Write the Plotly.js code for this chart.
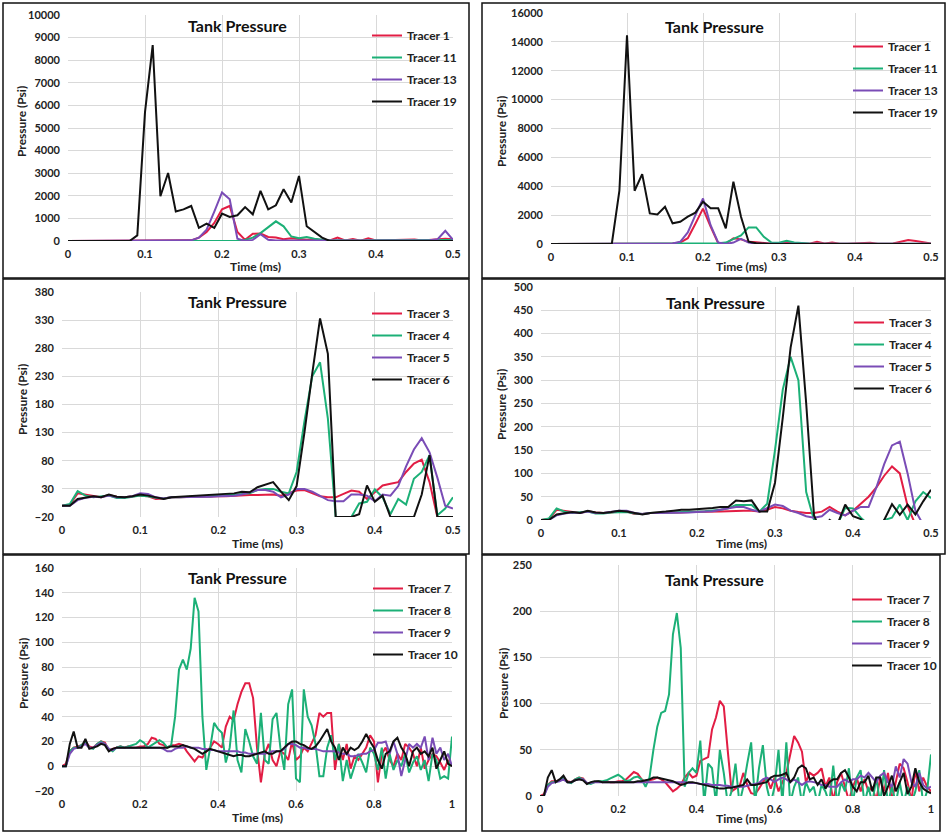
<!DOCTYPE html>
<html><head><meta charset="utf-8">
<script src="https://cdn.plot.ly/plotly-3.0.1.min.js"></script>
<style>html,body{margin:0;padding:0;background:#fff}</style>
</head><body><div id="chart" style="width:948px;height:835px"></div>
<script>
// ---------- time axes (ms) ----------
const TIME_HALF = [0,0.01,0.02,0.03,0.04,0.05,0.06,0.07,0.08,0.09,
 0.10,0.11,0.12,0.13,0.14,0.15,0.16,0.17,0.18,0.19,
 0.20,0.21,0.22,0.23,0.24,0.25,0.26,0.27,0.28,0.29,
 0.30,0.31,0.32,0.33,0.34,0.35,0.36,0.37,0.38,0.39,
 0.40,0.41,0.42,0.43,0.44,0.45,0.46,0.47,0.48,0.49,0.50];
const TIME_FULL = [0,0.01,0.02,0.03,0.04,0.05,0.06,0.07,0.08,0.09,
 0.10,0.11,0.12,0.13,0.14,0.15,0.16,0.17,0.18,0.19,
 0.20,0.21,0.22,0.23,0.24,0.25,0.26,0.27,0.28,0.29,
 0.30,0.31,0.32,0.33,0.34,0.35,0.36,0.37,0.38,0.39,
 0.40,0.41,0.42,0.43,0.44,0.45,0.46,0.47,0.48,0.49,
 0.50,0.51,0.52,0.53,0.54,0.55,0.56,0.57,0.58,0.59,
 0.60,0.61,0.62,0.63,0.64,0.65,0.66,0.67,0.68,0.69,
 0.70,0.71,0.72,0.73,0.74,0.75,0.76,0.77,0.78,0.79,
 0.80,0.81,0.82,0.83,0.84,0.85,0.86,0.87,0.88,0.89,
 0.90,0.91,0.92,0.93,0.94,0.95,0.96,0.97,0.98,0.99,1.00];

// ---------- Panel 1 (top-left) ----------
const P1_NAMES = ["Tracer 1","Tracer 11","Tracer 13","Tracer 19"];
const P1_T1 = [0,0,0,0,0,0,0,0,0,0, 0,0,10,20,20,20,30,150,400,800,
 1400,1550,400,50,320,330,180,150,80,120, 100,60,80,30,20,150,20,90,10,120,
 20,30,50,60,60,70,20,40,60,100, 80];
const P1_T11 = [0,0,0,0,0,0,0,0,0,0, 0,0,0,0,0,0,0,0,0,0,
 0,0,0,50,150,350,600,870,650,200, 120,180,100,50,20,30,20,30,20,30,
 30,40,40,50,40,40,30,30,40,50, 40];
const P1_T13 = [0,0,0,0,0,0,0,0,0,0, 0,10,20,30,20,10,30,150,500,1300,
 2150,1850,100,0,50,300,50,20,20,20, 20,20,20,20,20,20,20,20,20,20,
 20,20,20,20,20,20,20,30,80,450, 50];
const P1_T19 = [0,0,0,0,0,0,0,0,0,250, 5700,8670,1980,3010,1310,1400,1550,580,770,580,
 1210,1060,1140,1500,1180,2220,1400,1580,2290,1700, 2880,650,400,150,0,0,0,0,0,0,
 0,0,0,0,0,0,0,0,0,0, 0];

// ---------- Panel 2 (top-right) ----------
const P2_NAMES = ["Tracer 1","Tracer 11","Tracer 13","Tracer 19"];
const P2_T1 = [0,0,0,0,0,0,0,0,0,0, 0,0,10,10,20,20,30,100,400,1400,
 2450,1200,50,20,400,320,150,120,50,20, 50,100,50,30,20,150,30,100,20,20,
 30,30,80,20,20,30,150,280,200,100, 40];
const P2_T11 = [0,0,0,0,0,0,0,0,0,0, 0,0,0,0,0,0,0,0,0,0,
 0,0,50,100,350,600,1150,1150,500,100, 80,220,100,50,30,20,20,30,20,20,
 20,30,40,20,20,20,30,40,30,30, 20];
const P2_T13 = [0,0,0,0,0,0,0,0,0,0, 0,10,20,30,20,20,30,150,800,2000,
 3150,1300,100,0,100,350,100,20,20,20, 20,20,20,20,20,20,20,20,20,20,
 20,20,20,20,20,20,20,20,20,20, 20];
const P2_T19 = [0,0,0,0,0,0,0,0,0,3690, 14450,3690,4840,2120,2050,2580,1430,1540,1890,2170,
 2930,2470,2470,1080,4310,1890,160,50,0,0, 0,0,0,0,0,0,0,0,0,0,
 0,0,0,0,0,0,0,0,0,0, 0];

// ---------- Panel 3 (middle-left) ----------
const P3_NAMES = ["Tracer 3","Tracer 4","Tracer 5","Tracer 6"];
const P3_T3 = [0,2,22,20,17,15,19,16,15,16, 18,17,12,13,15,15,16,16,16,17,
 17,17,18,18,19,19,20,20,18,22, 27,28,23,17,15,15,21,27,25,12,
 24,36,39,42,60,75,82,42,-20,-20, -20];
const P3_T4 = [0,3,26,18,15,16,18,14,14,16, 18,17,14,13,15,15,16,16,17,17,
 18,18,19,20,22,28,30,30,25,22, 60,150,230,255,155,-20,-20,-20,4,7,
 29,15,-15,12,2,48,60,90,-17,-5, 15];
const P3_T5 = [0,0,10,14,16,15,18,15,15,17, 22,21,15,13,15,15,15,15,15,16,
 17,17,18,20,24,28,28,25,15,20, 30,30,25,18,10,8,8,20,20,18,
 8,20,18,35,70,100,120,95,50,0, -5];
const P3_T6 = [0,0,12,15,17,15,20,16,15,17, 20,18,15,12,15,16,17,18,19,20,
 21,21,22,25,24,33,38,42,25,10, 35,130,235,333,270,-20,-20,-20,-15,36,
 7,18,-20,-20,-20,-20,20,90,-20,-20, -20];

// ---------- Panel 4 (middle-right) ----------
const P4_NAMES = ["Tracer 3","Tracer 4","Tracer 5","Tracer 6"];
const P4_T3 = [0,2,22,20,17,15,19,16,15,16, 19,18,13,13,15,15,16,16,16,17,
 17,17,18,18,19,20,20,20,18,22, 28,25,20,17,15,15,18,28,18,10,
 20,35,50,70,95,115,100,30,-10,-20, -20];
const P4_T4 = [0,3,25,18,15,16,18,14,14,16, 17,17,14,13,15,15,16,16,17,17,
 18,19,20,22,25,32,32,32,18,35, 150,280,350,300,60,0,-20,-20,-10,26,
 25,5,-10,-20,0,5,33,0,40,60, 47];
const P4_T5 = [0,0,10,14,16,15,18,15,15,17, 20,20,15,13,15,15,15,15,15,16,
 17,18,19,22,25,28,28,22,18,25, 33,30,20,15,8,5,8,22,15,10,
 20,28,28,70,120,160,168,100,20,-10, -20];
const P4_T6 = [0,0,12,15,17,15,20,16,15,17, 20,18,15,12,15,16,18,20,22,22,
 23,24,26,28,28,42,40,42,18,18, 80,220,370,460,250,10,-30,0,-10,33,
 8,2,-20,-20,0,34,11,33,12,40, 65];

// ---------- Panel 5 (bottom-left) ----------
const P5_NAMES = ["Tracer 7","Tracer 8","Tracer 9","Tracer 10"];
const P5_T7 = [0,2,12,15,16,17,20,16,15,18, 20,19,13,14,15,16,15,16,15,15,
 16,16,18,23,22,18,17,15,17,17, 18,17,12,8,4,8,7,12,15,20,
 18,15,32,40,37,50,60,67,67,55, 15,-13,10,18,5,0,12,10,5,20,
 5,8,15,12,18,25,43,40,43,43, -3,18,5,18,-2,8,5,10,15,25,
 20,-13,10,15,5,0,10,5,18,15, 10,0,15,-2,5,10,8,3,-3,5, 0];
const P5_T8 = [0,0,12,15,15,17,20,15,14,18, 20,18,14,12,15,16,15,16,17,18,
 21,19,15,17,19,21,19,15,17,40, 78,86,78,95,136,125,40,-3,15,35,
 30,27,3,15,45,5,-5,30,20,8, 2,43,5,2,38,43,15,-3,50,62,
 -10,-13,62,40,33,18,-8,-8,15,25, 5,18,-12,5,-10,0,10,3,-5,15,
 10,-3,15,-10,10,-3,5,0,10,-5, 3,8,-3,5,-12,10,5,-10,-8,-10, 24];
const P5_T9 = [0,0,10,14,15,16,18,15,15,17, 19,18,14,13,15,15,15,15,15,15,
 15,15,15,15,15,15,14,12,12,14, 15,15,16,15,15,15,14,14,13,13,
 12,12,12,12,12,12,11,11,10,10, 10,10,10,11,12,12,12,14,18,18,
 17,15,15,14,14,14,13,12,12,12, 12,11,10,10,8,8,9,10,10,12,
 13,19,19,20,10,20,10,-8,5,18, 15,18,15,24,5,23,10,15,5,10, 0];
const P5_T10 = [0,0,18,28,15,15,22,14,15,16, 18,17,12,14,15,15,15,15,15,15,
 15,15,15,15,15,15,15,15,16,16, 16,17,16,15,14,12,10,12,14,13,
 12,11,10,9,8,9,9,8,8,9, 10,11,12,10,10,12,12,15,18,20,
 20,18,17,15,14,16,20,25,30,20, 15,5,15,10,15,13,15,20,26,20,
 15,5,-2,10,12,20,23,15,10,0, 12,15,10,12,8,15,-2,5,12,2, 0];

// ---------- Panel 6 (bottom-right) ----------
const P6_NAMES = ["Tracer 7","Tracer 8","Tracer 9","Tracer 10"];
const P6_T7 = [0,2,12,16,16,17,20,16,15,18, 20,19,14,14,15,16,15,16,15,15,
 16,16,18,22,26,24,18,15,17,18, 20,18,15,10,5,8,12,20,25,20,
 22,38,40,42,72,85,103,97,50,5, 8,10,25,12,3,2,8,15,20,8,
 20,5,15,25,45,65,58,48,15,25, 22,25,30,10,20,-5,15,25,10,-5,
 10,20,5,18,5,10,-5,20,5,25, -5,15,35,30,15,-5,28,5,20,10, 5];
const P6_T8 = [0,0,12,15,15,17,20,15,14,18, 20,18,14,13,15,16,16,17,19,21,
 23,20,16,17,20,21,18,10,20,50, 75,90,92,110,175,198,160,10,25,30,
 25,60,-8,35,30,-8,50,25,-8,5, 35,-8,10,35,58,-8,30,55,10,-8,
 10,50,-8,58,-8,10,20,-8,15,5, 10,-8,12,5,-8,33,-8,15,5,30,
 -8,20,28,-8,10,-8,20,-8,28,-8, 10,-8,15,-8,10,-8,5,28,-8,5, 45];
const P6_T9 = [0,0,10,14,15,16,18,15,15,17, 18,18,14,14,15,15,15,15,15,15,
 15,15,15,15,15,15,15,15,15,15, 15,15,15,15,15,15,15,15,14,14,
 14,13,13,13,12,12,12,11,11,10, 10,10,10,11,12,13,14,18,20,18,
 15,18,20,18,15,18,15,12,15,16, 15,14,12,12,10,10,10,15,18,15,
 18,18,22,20,25,20,15,22,25,15, 10,32,20,40,35,15,10,25,12,8, 10];
const P6_T10 = [0,0,20,28,15,18,22,15,15,17, 18,17,13,15,16,16,15,15,15,15,
 15,15,15,15,15,16,16,17,18,20, 20,19,18,17,16,14,12,13,15,15,
 14,13,12,11,10,9,8,8,9,9, 10,11,12,18,12,12,13,14,15,20,
 22,22,23,25,15,20,30,33,30,18, 20,12,18,8,15,18,18,25,28,20,
 10,5,15,15,22,5,20,20,0,10, 22,5,15,25,2,10,30,15,8,5, 3];

// ---------- styling & layout ----------
const COLORS = ["#E21D44","#1CB077","#7A4CB6","#111111"];
const FONT = 'Lato, "Open Sans", "DejaVu Sans", sans-serif';
const W = 948, H = 835;
const xd = (a,b) => [a/W, b/W];
const yd = (top,bottom) => [1-bottom/H, 1-top/H];

const panels = [
 {t:TIME_HALF, names:P1_NAMES, ys:[P1_T1,P1_T11,P1_T13,P1_T19], plot:[68,15,453,241], yr:[0,10000], y0:0, dy:1000, xr:[0,0.5], dx:0.1,
  leg:[367,21], title:[237,25], xt:[256,266], yt:[22,122], box:[3,3,469,278]},
 {t:TIME_HALF, names:P2_NAMES, ys:[P2_T1,P2_T11,P2_T13,P2_T19], plot:[551,13,931,244], yr:[0,16000], y0:0, dy:2000, xr:[0,0.5], dx:0.1,
  leg:[848,32], title:[714,27], xt:[741,266], yt:[502,132], box:[482,3,945,278]},
 {t:TIME_HALF, names:P3_NAMES, ys:[P3_T3,P3_T4,P3_T5,P3_T6], plot:[62,292,453,517], yr:[-20,380], y0:-20, dy:50, xr:[0,0.5], dx:0.1,
  leg:[367,299], title:[237,301], xt:[257,543], yt:[22,400], box:[3,279,469,554]},
 {t:TIME_HALF, names:P4_NAMES, ys:[P4_T3,P4_T4,P4_T5,P4_T6], plot:[541,287,931,520], yr:[0,500], y0:0, dy:50, xr:[0,0.5], dx:0.1,
  leg:[849,308], title:[715,302], xt:[741,543], yt:[502,405], box:[482,279,945,554]},
 {t:TIME_FULL, names:P5_NAMES, ys:[P5_T7,P5_T8,P5_T9,P5_T10], plot:[62,568,452,791], yr:[-20,160], y0:-20, dy:20, xr:[0,1], dx:0.2,
  leg:[368,574], title:[237,577], xt:[257,817], yt:[23,674], box:[3,555,466,831]},
 {t:TIME_FULL, names:P6_NAMES, ys:[P6_T7,P6_T8,P6_T9,P6_T10], plot:[540,565,931,796], yr:[0,250], y0:0, dy:50, xr:[0,1], dx:0.2,
  leg:[847,585], title:[714,579], xt:[741,818], yt:[503,684], box:[482,555,940,831]}
];

const tickfont = {family:FONT, size:11, color:'#222', weight:700};
const data = [];
const layout = {
  width:W, height:H, margin:{l:0,r:0,t:0,b:0},
  paper_bgcolor:'#fff', plot_bgcolor:'#fff', showlegend:true,
  annotations:[], shapes:[]
};

panels.forEach((p,i) => {
  const s = i===0 ? '' : String(i+1);
  const legKey = 'legend' + s;
  p.ys.forEach((y,k) => {
    data.push({type:'scatter', mode:'lines', x:p.t, y:y, name:p.names[k],
      xaxis:'x'+s, yaxis:'y'+s, legend:legKey, legendgroup:'g'+i+'_'+k,
      line:{color:COLORS[k], width:2}, hoverinfo:'skip'});
  });
  layout['xaxis'+s] = {domain:xd(p.plot[0],p.plot[2]), range:p.xr, tick0:0, dtick:p.dx,
    anchor:'y'+s, showgrid:true, gridcolor:'#D9D9D9', gridwidth:1, zeroline:false, showline:false,
    ticks:'', tickfont:tickfont, ticklabelstandoff:5, fixedrange:true};
  layout['yaxis'+s] = {domain:yd(p.plot[1],p.plot[3]), range:p.yr, tick0:p.y0, dtick:p.dy,
    anchor:'x'+s, showgrid:true, gridcolor:'#D9D9D9', gridwidth:1, zeroline:false, showline:false,
    ticks:'', tickfont:tickfont, ticklabelstandoff:7, tickformat:'d', fixedrange:true};
  layout[legKey] = {x:p.leg[0]/W, y:1-p.leg[1]/H, xanchor:'left', yanchor:'top',
    bgcolor:'rgba(0,0,0,0)', borderwidth:0, traceorder:'grouped', tracegroupgap:3, itemwidth:30,
    font:{family:FONT, size:12, color:'#222', weight:700}};
  layout.annotations.push({text:'Tank Pressure', xref:'paper', yref:'paper', x:p.title[0]/W, y:1-p.title[1]/H,
    xanchor:'center', yanchor:'middle', showarrow:false, font:{family:FONT, size:16, color:'#111', weight:700}});
  layout.annotations.push({text:'Time (ms)', xref:'paper', yref:'paper', x:p.xt[0]/W, y:1-p.xt[1]/H,
    xanchor:'center', yanchor:'middle', showarrow:false, font:{family:FONT, size:12, color:'#222', weight:700}});
  layout.annotations.push({text:'Pressure (Psi)', xref:'paper', yref:'paper', x:p.yt[0]/W, y:1-p.yt[1]/H,
    xanchor:'center', yanchor:'middle', textangle:-90, showarrow:false, font:{family:FONT, size:12, color:'#222', weight:700}});
  layout.shapes.push({type:'rect', xref:'paper', yref:'paper', x0:p.box[0]/W, x1:p.box[2]/W, y0:1-p.box[3]/H, y1:1-p.box[1]/H,
    line:{color:'#111', width:1.5}, fillcolor:'rgba(0,0,0,0)', layer:'above'});
});

Plotly.newPlot('chart', data, layout, {staticPlot:true, displayModeBar:false});
</script></body></html>
